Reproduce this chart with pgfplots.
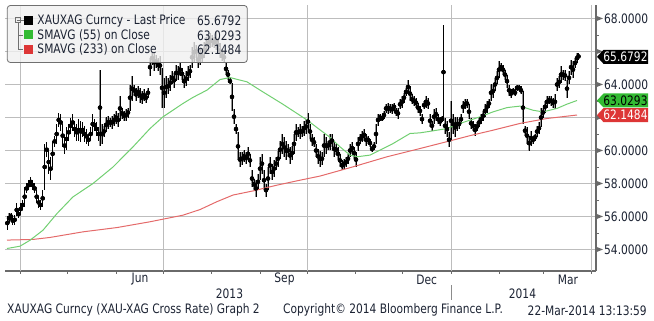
\documentclass[border=0pt]{standalone}
\usepackage{fontspec}
\setmainfont{DejaVu Sans}[FakeStretch=0.82]
\usepackage{pgfplots}
\pgfplotsset{compat=1.18}
\usepackage{pgfplotstable}

\definecolor{gridc}{HTML}{8C8C8C}
\definecolor{gridd}{HTML}{BDBDBD}
\definecolor{axisc}{HTML}{6A6A6A}
\definecolor{labc}{HTML}{1C2333}
\definecolor{barg}{HTML}{959595}
\definecolor{maG}{HTML}{72CF72}
\definecolor{maR}{HTML}{E46A6A}
\definecolor{sqG}{HTML}{33BB33}
\definecolor{sqR}{HTML}{DD3636}
\definecolor{legf}{HTML}{F0F0F0}
\definecolor{legb}{HTML}{707070}

\newcommand{\bb}{\fontsize{13}{15}\selectfont}

% x = horizontal position (chart units, 1 unit = 1 chart pixel), lo/hi = daily low/high
\pgfplotstableread{
x lo hi
7.3 55.2 56.0
9 55.6 56.2
11 55.8 56.2
12.7 55.5 56.0
14.7 55.5 56.1
16.7 56.0 56.8
18.7 55.9 56.4
20.7 56.1 56.8
22.7 56.4 57.0
24.7 56.6 57.8
26.7 57.4 58.0
28.7 57.6 58.2
30.7 57.8 58.4
32.7 57.6 58.2
34.7 57.4 58.0
36.7 56.8 57.6
38.7 56.5 57.2
40.7 56.4 57.0
42.7 56.6 57.6
44.7 57.6 60.4
46.7 59.6 60.5
48.7 58.6 60.0
50.7 58.2 59.6
52.7 59.0 60.6
54.7 60.2 60.9
56.7 60.4 61.6
58.7 61.4 62.3
60.7 61.2 62.2
62.7 60.2 61.6
64.7 59.8 60.8
66.7 60.0 61.4
68.7 60.6 61.6
70.7 61.0 62.0
72.7 61.2 62.2
74.7 60.8 61.8
76.7 60.6 61.6
78.7 60.6 61.9
80.7 60.5 61.8
82.7 60.8 61.7
84.7 60.5 61.5
86.7 60.4 61.3
88.7 60.3 61.0
90.7 60.6 61.4
92.7 61.0 62.2
94.7 61.2 61.9
96.7 60.9 61.7
98.7 60.6 61.4
100 60.3 64.9
102 60.4 61.6
104 60.8 61.5
106 61.1 62.0
108 61.3 62.1
110 61.4 62.0
112 61.3 62.1
114 61.5 62.2
116 61.6 62.4
118 61.4 62.3
120 61.8 63.3
122 61.9 62.6
124 61.8 62.4
126 61.8 62.5
128 62.0 62.6
130 62.4 64.0
132 63.0 64.5
134 63.3 64.0
136 63.0 63.8
138 63.2 63.9
140 62.9 63.8
142 62.8 63.6
144 63.0 63.7
146 62.9 63.5
148 63.2 63.8
150 64.5 65.6
152 65.2 66.0
154 64.8 65.9
156 65.0 65.8
158 64.8 65.6
160 64.6 65.7
162 62.6 65.0
164 62.6 64.4
166 63.2 64.5
168 63.4 64.4
170 63.6 64.6
172 64.0 64.8
174 63.8 64.7
176 64.2 65.2
178 64.3 65.1
180 64.5 65.3
182 64.3 65.0
184 63.8 64.6
186 63.9 64.8
188 64.2 65.1
190 64.4 65.2
192 65.0 66.3
194 65.3 66.6
196 65.6 66.4
198 65.0 66.0
200 65.2 66.2
202 65.3 66.1
204 65.6 66.6
206 65.9 66.9
208 66.0 67.0
210 66.2 67.1
212 66.3 67.0
214 66.2 66.9
216 66.1 67.2
218 66.0 66.8
220 65.6 66.5
222 65.4 66.1
224 65.3 66.0
226 64.6 65.3
228 64.3 64.9
230 64.0 64.4
232 62.4 64.1
234 61.6 62.5
236 61.0 61.6
238 59.4 61.1
240 59.0 59.9
242 59.1 59.9
244 59.3 60.0
246 59.2 59.9
248 59.4 60.2
250 59.0 59.8
252 57.8 58.8
254 57.6 58.3
256 57.2 58.2
258 57.6 58.6
260 58.2 59.6
262 58.6 59.8
264 57.6 58.8
266 57.2 58.0
268 57.6 59.0
270 58.6 59.6
272 58.2 59.2
274 58.4 59.4
276 58.8 59.6
278 59.0 60.0
280 59.5 60.6
282 59.8 61.0
284 59.6 60.8
286 59.4 60.6
288 59.6 60.4
290 59.2 60.2
292 59.4 60.3
294 59.8 61.0
296 60.6 61.6
298 60.8 61.4
300 60.7 61.6
302 60.8 61.5
304 60.9 61.8
306 61.0 61.9
308 61.2 62.3
310 60.7 61.6
312 60.3 61.0
314 60.2 60.8
316 59.6 60.4
318 59.2 60.1
320 59.0 60.0
322 59.1 59.9
324 59.6 61.0
326 59.8 60.8
328 60.0 60.6
330 60.0 61.0
332 60.2 61.0
334 59.6 60.6
336 59.7 60.4
338 59.4 60.2
340 59.0 59.8
342 58.8 59.4
344 58.9 59.5
346 59.0 59.6
348 59.2 59.8
350 59.6 60.4
352 59.8 60.5
354 59.5 60.2
356 59.0 59.9
358 60.0 60.8
360 60.4 61.0
362 60.5 61.2
364 60.6 61.3
366 60.3 61.0
368 60.4 60.9
370 60.2 60.7
372 59.9 60.3
374 60.0 60.5
376 60.4 61.6
378 61.5 62.2
380 61.8 62.2
382 61.8 62.1
384 61.9 62.4
386 62.3 62.8
388 62.2 62.9
390 62.3 62.8
392 62.2 62.8
394 62.4 62.9
396 62.1 62.6
398 61.9 62.6
400 62.5 63.1
402 62.6 63.3
404 62.9 63.5
406 63.3 63.8
408 63.4 64.3
410 63.0 63.9
412 62.8 63.4
414 62.7 63.3
416 62.6 63.2
418 62.3 62.9
420 62.1 62.7
422 61.6 62.2
424 62.5 63.0
426 62.6 63.3
428 62.5 63.2
430 61.4 62.2
432 61.2 61.8
434 61.6 62.5
436 61.8 62.6
438 61.6 62.2
440 61.5 62.0
442 61.7 62.1
443.5 61.9 67.6
445 61.0 62.0
447 60.8 61.8
449 60.2 61.1
451 60.6 63.0
453 61.0 62.2
455 60.8 62.0
457 61.2 62.0
459 61.3 61.9
461 61.6 62.2
463 62.3 63.0
465 62.5 63.1
467 62.6 63.1
469 61.9 62.8
471 61.3 62.0
473 61.2 61.8
475 60.9 61.6
477 61.2 61.7
479 61.4 62.0
481 61.6 62.2
483 61.8 62.4
485 62.0 62.8
487 62.3 63.0
489 62.6 63.1
491 63.0 64.0
493 63.2 64.0
495 63.6 64.4
497 64.0 64.8
499 64.4 65.4
501 64.8 65.3
503 64.6 65.2
505 64.3 64.9
507 63.8 64.6
509 63.3 64.0
511 63.2 63.7
513 63.4 63.8
515 63.3 63.7
517 63.6 64.0
519 63.6 64.0
521 63.4 63.9
523 61.6 63.6
525 60.9 61.5
527 60.4 61.4
529 60.0 60.9
531 60.3 61.2
533 60.4 60.9
535 60.6 61.0
537 60.8 61.5
539 61.0 61.7
541 61.4 62.6
543 62.0 62.6
545 62.3 63.0
547 62.6 63.3
549 62.8 63.3
551 62.7 63.3
553 62.6 63.2
555 62.5 63.4
557 63.6 64.4
559 63.8 64.5
561 64.1 65.1
563 64.3 64.9
565 64.2 64.9
567 63.2 64.3
569 64.0 64.8
571 64.6 65.5
573 64.4 65.4
575 65.0 65.6
577 65.3 65.9
578.5 65.5 65.9
}\bars

\pgfplotstableread{
x v
7 54.06
20 54.2
30 54.56
43 55.17
57 56.18
73 57.19
93 58.0
113 59.0
133 60.22
150 61.33
163 62.04
183 62.85
193 63.22
207 63.66
220 64.3
230 64.42
247 64.16
260 63.66
283 62.8
307 61.85
320 61.25
330 60.8
340 60.22
350 59.72
357 59.62
370 59.72
380 60.02
393 60.42
410 61.03
420 61.07
433 61.19
447 61.33
460 61.64
480 62.04
493 62.34
507 62.6
520 62.69
533 62.44
543 62.34
557 62.55
567 62.81
577 63.03
}\smaG

\pgfplotstableread{
x v
7 54.57
33 54.61
50 54.73
83 55.07
117 55.33
150 55.68
183 56.08
200 56.42
217 56.9
233 57.3
253 57.55
277 57.9
300 58.2
320 58.45
353 59.01
387 59.62
420 60.12
453 60.63
470 60.9
493 61.23
520 61.64
547 61.94
577 62.15
}\smaR

\begin{document}
\begin{tikzpicture}
\useasboundingbox (0,0) rectangle (654pt,321pt);
\begin{axis}[
  at={(5pt,50pt)}, anchor=south west,
  scale only axis, width=591pt, height=266pt,
  xmin=5, xmax=596, ymin=52.697, ymax=68.818,
  axis x line*=bottom, axis y line*=right,
  axis line style={draw=axisc, line width=1.2pt},
  xtick={20.7,67.6,116.2,163.1,211.6,260.1,307,355.5,402.5,451,499.5,543.3,591.8},
  xticklabels={},
  ytick={54,56,58,60,62,64,66,68}, yticklabels={},
  minor y tick num=1,
  tick align=outside,
  major tick length=3pt, minor tick length=3pt,
  tick style={draw=axisc, line width=0.8pt},
  ymajorgrids,
  grid style={draw=gridd, line width=1pt, solid},
  extra x ticks={20.5,163.5,307.5,451.5,591.5},
  extra x tick labels={},
  extra x tick style={grid=major, major tick length=0pt},
]
\addplot[only marks, mark=none, forget plot,
  error bars/.cd, y dir=both, y explicit, error mark=none,
  error bar style={draw=barg, line width=1.5pt}]
  table[x=x, y expr={(\thisrow{lo}+\thisrow{hi})/2}, y error expr={(\thisrow{hi}-\thisrow{lo})/2}] {\bars};
\addplot[only marks, mark=none, forget plot,
  error bars/.cd, y dir=both, y explicit, error mark=none,
  error bar style={draw=black, line width=0.45pt}]
  table[x=x, y expr={(\thisrow{lo}+\thisrow{hi})/2}, y error expr={(\thisrow{hi}-\thisrow{lo})/2}] {\bars};
\addplot[maR, line width=1pt, no marks] table[x=x, y=v] {\smaR};
\addplot[maG, line width=1pt, no marks] table[x=x, y=v] {\smaG};
\end{axis}

\begin{scope}[x=1pt, y=-1pt, yshift=321pt]
  % right axis: tick arrows and labels (66 and 62 are hidden behind value tags)
  \foreach \v in {54,56,58,60,62,64,66,68}{
    \fill[axisc] (596.5,{18.5+(68-\v)*16.5-2.6}) -- (603,{18.5+(68-\v)*16.5}) -- (596.5,{18.5+(68-\v)*16.5+2.6}) -- cycle;
  }
  \foreach \v in {54,56,58,60,64,68}{
    \node[anchor=west, inner sep=0pt, text=labc, font=\bb] at (604,{18.5+(68-\v)*16.5}) {\v.0000};
  }
  % value tags
  \fill[black] (597,56.8) -- (603.5,49.8) -- (648,49.8) -- (648,63.8) -- (603.5,63.8) -- cycle;
  \node[inner sep=0pt, text=white, font=\bb] at (625.5,56.8) {65.6792};
  \fill[sqG] (597,100.5) -- (603.5,93.5) -- (648,93.5) -- (648,107.5) -- (603.5,107.5) -- cycle;
  \node[inner sep=0pt, text=black, font=\bb] at (625.5,100.5) {63.0293};
  \fill[sqR] (597,115.1) -- (603.5,108.1) -- (648,108.1) -- (648,122.1) -- (603.5,122.1) -- cycle;
  \node[inner sep=0pt, text=white, font=\bb] at (625.5,115.1) {62.1484};

  % legend
  \draw[rounded corners=3pt, fill=legf, fill opacity=0.8, draw=legb, line width=0.8pt] (7.3,5.5) rectangle (247.3,62.5);
  \draw[legb, line width=0.6pt] (15.7,17.6) rectangle (20.7,22.6);
  \draw[legb, line width=0.6pt] (16.7,20.1) -- (19.7,20.1);
  \draw[legb, line width=0.6pt] (18.2,22.6) -- (18.2,49.5) -- (23,49.5);
  \draw[legb, line width=0.6pt] (18.2,35) -- (23,35);
  \draw[legb, line width=0.6pt] (20.7,20.1) -- (24,20.1);
  \fill[black] (24,16) rectangle (33.3,25);
  \fill[sqG] (24,30.5) rectangle (33.3,39.5);
  \fill[sqR] (24,45) rectangle (33.3,54);
  \node[anchor=west, inner sep=0pt, text=labc, font=\bb] at (37.3,20.8) {XAUXAG Curncy - Last Price};
  \node[anchor=west, inner sep=0pt, text=labc, font=\bb] at (37.3,35.3) {SMAVG (55) on Close};
  \node[anchor=west, inner sep=0pt, text=labc, font=\bb] at (37.3,49.8) {SMAVG (233) on Close};
  \node[anchor=east, inner sep=0pt, text=labc, font=\bb] at (241.5,20.8) {65.6792};
  \node[anchor=east, inner sep=0pt, text=labc, font=\bb] at (241.5,35.3) {63.0293};
  \node[anchor=east, inner sep=0pt, text=labc, font=\bb] at (241.5,49.8) {62.1484};

  % month and year labels
  \node[inner sep=0pt, text=labc, font=\bb] at (140,279.5) {Jun};
  \node[inner sep=0pt, text=labc, font=\bb] at (284.5,279.5) {Sep};
  \node[inner sep=0pt, text=labc, font=\bb] at (426.7,279.5) {Dec};
  \node[inner sep=0pt, text=labc, font=\bb] at (568,279.5) {Mar};
  \node[inner sep=0pt, text=labc, font=\bb] at (229.5,294) {2013};
  \node[inner sep=0pt, text=labc, font=\bb] at (522.5,294) {2014};
  \draw[gridc, line width=0.8pt] (451,285.3) -- (451,300.3);

  % footer
  \node[anchor=west, inner sep=0pt, text=labc, font=\bb] at (7,310.3) {XAUXAG Curncy (XAU-XAG Cross Rate) Graph 2};
  \node[anchor=west, inner sep=0pt, text=labc, font=\bb] at (283,310.3) {Copyright© 2014 Bloomberg Finance L.P.};
  \node[anchor=east, inner sep=0pt, text=labc, font=\bb] at (647,310.3) {22-Mar-2014 13:13:59};
\end{scope}
\end{tikzpicture}
\end{document}
